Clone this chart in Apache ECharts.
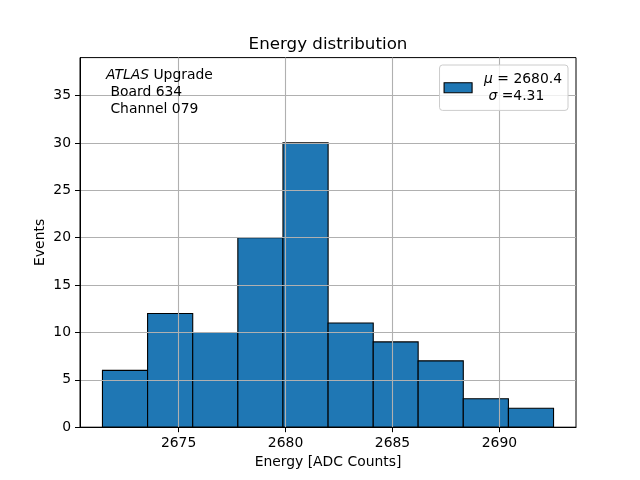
<!DOCTYPE html>
<html>
<head>
<meta charset="utf-8">
<script src="https://cdn.jsdelivr.net/npm/echarts@6/dist/echarts.min.js"></script>
<style>html,body{margin:0;padding:0;background:#fff}#c{width:640px;height:480px}</style>
</head>
<body>
<div id="c"></div>
<script>
// Histogram bin edges (ADC counts) and counts
const binEdges = [2671.44, 2673.55, 2675.66, 2677.77, 2679.88, 2681.99, 2684.10, 2686.20, 2688.31, 2690.42, 2692.53];
const counts = [6, 12, 10, 20, 30, 11, 9, 7, 3, 2];
const xTicks = [2675, 2680, 2685, 2690];
const yTicks = [0, 5, 10, 15, 20, 25, 30, 35];
const xRange = [2670.39, 2693.58];
const yRange = [0, 39];
const titleText = 'Energy distribution';
const xName = 'Energy [ADC Counts]';
const yName = 'Events';
const muText = '2680.4';
const sigmaText = '4.31';
const infoLines = ['Upgrade', 'Board 634', 'Channel 079'];

const FONT = 'DejaVu Sans';
const data = counts.map((c, i) => [binEdges[i], binEdges[i + 1], c]);

const chart = echarts.init(document.getElementById('c'), null, {renderer: 'canvas'});
chart.setOption({
  animation: false,
  backgroundColor: '#fff',
  textStyle: {fontFamily: FONT},
  title: {
    text: titleText, left: 328, top: 36, textAlign: 'center', padding: 0,
    textStyle: {fontFamily: FONT, fontSize: 16.7, fontWeight: 'normal', color: '#000'}
  },
  grid: {left: 80, right: 64, top: 57.6, bottom: 52.8, show: true, borderColor: '#000', borderWidth: 1, backgroundColor: 'transparent'},
  legend: {
    right: 72, top: 65, orient: 'vertical',
    padding: [6, 6, 6, 4],
    icon: 'rect',
    itemWidth: 28, itemHeight: 10,
    backgroundColor: 'rgba(255,255,255,0.8)',
    borderColor: '#cccccc', borderWidth: 1, borderRadius: 3,
    itemStyle: {color: '#1f77b4', borderColor: '#000', borderWidth: 1.1},
    formatter: () => '{i|μ} = ' + muText + '\n {i|σ} =' + sigmaText,
    textStyle: {
      fontFamily: FONT, fontSize: 13.9, color: '#000', lineHeight: 16.7, padding: [0, 0, 0, 7],
      rich: {i: {fontFamily: FONT, fontSize: 13.9, fontStyle: 'italic', color: '#000', lineHeight: 16.7}}
    },
    data: ['hist']
  },
  xAxis: {
    type: 'value', min: xRange[0], max: xRange[1],
    name: xName, nameLocation: 'middle', nameGap: 28, nameMoveOverlap: false,
    nameTextStyle: {fontFamily: FONT, fontSize: 13.9, color: '#000'},
    axisLine: {show: true, lineStyle: {color: '#000', width: 1}},
    axisTick: {show: true, length: 5, lineStyle: {color: '#000', width: 1}, customValues: xTicks},
    axisLabel: {show: true, margin: 9, fontFamily: FONT, fontSize: 13.9, color: '#000', customValues: xTicks, formatter: v => String(v)},
    splitLine: {show: true, lineStyle: {color: '#b0b0b0', width: 1.1}}
  },
  yAxis: {
    type: 'value', min: yRange[0], max: yRange[1], interval: 5,
    name: yName, nameLocation: 'middle', nameGap: 33, nameRotate: 90, nameMoveOverlap: false,
    nameTextStyle: {fontFamily: FONT, fontSize: 13.9, color: '#000'},
    axisLine: {show: true, lineStyle: {color: '#000', width: 1}},
    axisTick: {show: true, length: 5, lineStyle: {color: '#000', width: 1}, customValues: yTicks},
    axisLabel: {show: true, margin: 9, fontFamily: FONT, fontSize: 13.9, color: '#000', customValues: yTicks, formatter: v => String(v)},
    splitLine: {show: true, lineStyle: {color: '#b0b0b0', width: 1.1}}
  },
  graphic: [{
    type: 'text', left: 106, top: 66.5, z: 10,
    style: {
      text: '{i|ATLAS} ' + infoLines[0] + '\n ' + infoLines[1] + '\n ' + infoLines[2],
      font: '13.9px "DejaVu Sans"', fill: '#000', lineHeight: 17,
      rich: {i: {fontFamily: FONT, fontSize: 13.9, fontStyle: 'italic', fill: '#000', lineHeight: 17}}
    }
  }],
  series: [{
    name: 'hist', type: 'custom', z: -1,
    itemStyle: {color: '#1f77b4', borderColor: '#000', borderWidth: 1},
    encode: {x: [0, 1], y: 2},
    data: data,
    renderItem: function (params, api) {
      const p0 = api.coord([api.value(0), 0]);
      const p1 = api.coord([api.value(1), api.value(2)]);
      return {
        type: 'rect',
        shape: {x: p0[0], y: p1[1], width: p1[0] - p0[0], height: p0[1] - p1[1]},
        style: {fill: '#1f77b4', stroke: '#000', lineWidth: 1.1}
      };
    }
  }]
});
</script>
</body>
</html>
